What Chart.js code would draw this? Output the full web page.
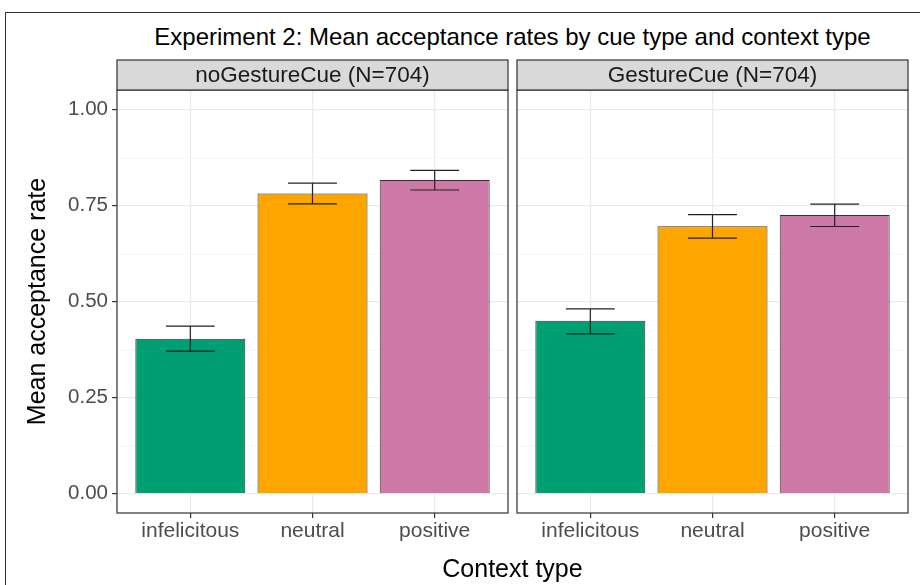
<!DOCTYPE html>
<html>
<head>
<meta charset="utf-8">
<script src="https://cdn.jsdelivr.net/npm/chart.js@4.4.1/dist/chart.umd.min.js"></script>
<style>
html, body { margin: 0; padding: 0; background: #fff; overflow: hidden; }
#wrap { position: relative; width: 920px; height: 585px; overflow: hidden; font-family: "Liberation Sans", Arial, sans-serif; }
#frame { position: absolute; left: 5px; top: 12px; width: 940px; height: 600px; border: 1px solid #333; }
#title { position: absolute; left: 0; top: 25px; width: 1025px; text-align: center; font-size: 24px; line-height: 24px; color: #000; }
#xtitle { position: absolute; left: 0; top: 556px; width: 1025px; text-align: center; font-size: 25px; line-height: 24px; color: #000; }
canvas { position: absolute; top: 0; }
#left { left: 0; }
#right { left: 512px; }
</style>
</head>
<body>
<div id="wrap">
  <div id="frame"></div>
  <div id="title">Experiment 2: Mean acceptance rates by cue type and context type</div>
  <canvas id="left" width="512" height="585"></canvas>
  <canvas id="right" width="408" height="585"></canvas>
  <div id="xtitle">Context type</div>
</div>
<script>
// data
var contexts = ['infelicitous', 'neutral', 'positive'];
var panelNames = ['noGestureCue (N=704)', 'GestureCue (N=704)'];
var noGestureMean = [0.403, 0.781, 0.816];
var noGestureLow = [0.371, 0.754, 0.790];
var noGestureHigh = [0.436, 0.808, 0.841];
var gestureMean = [0.450, 0.696, 0.725];
var gestureLow = [0.416, 0.665, 0.695];
var gestureHigh = [0.481, 0.726, 0.753];
var yTicks = [0, 0.25, 0.5, 0.75, 1];
var yMinor = [0.125, 0.375, 0.625, 0.875];
var barColors = ['#009E73', '#FFA500', '#CC79A7'];

var FONT = '"Liberation Sans", Arial, sans-serif';

function isMinor(ctx) {
  return ctx.tick && yMinor.indexOf(ctx.tick.value) >= 0;
}

function makePanel(id, name, means, lows, highs, showY) {
  // error bars + strip + panel border
  var extras = {
    id: 'extras' + id,
    afterDatasetsDraw: function (chart) {
      var c = chart.ctx, xs = chart.scales.x, ys = chart.scales.y;
      var band = xs.getPixelForValue(1) - xs.getPixelForValue(0);
      var half = band * 0.2;
      c.save();
      c.strokeStyle = '#222';
      c.lineWidth = 1.2;
      for (var i = 0; i < means.length; i++) {
        var x = xs.getPixelForValue(i);
        var y1 = ys.getPixelForValue(lows[i]);
        var y2 = ys.getPixelForValue(highs[i]);
        c.beginPath();
        c.moveTo(x, y1); c.lineTo(x, y2);
        c.moveTo(x - half, y1); c.lineTo(x + half, y1);
        c.moveTo(x - half, y2); c.lineTo(x + half, y2);
        c.stroke();
      }
      c.restore();
    },
    afterDraw: function (chart) {
      var c = chart.ctx, a = chart.chartArea;
      c.save();
      c.strokeStyle = '#333';
      c.lineWidth = 1.2;
      c.strokeRect(a.left, a.top, a.right - a.left, a.bottom - a.top);
      c.fillStyle = '#D9D9D9';
      c.fillRect(a.left, a.top - 30, a.right - a.left, 30);
      c.strokeRect(a.left, a.top - 30, a.right - a.left, 30);
      c.fillStyle = '#1A1A1A';
      c.font = '22.5px ' + FONT;
      c.textAlign = 'center';
      c.textBaseline = 'middle';
      c.fillText(name, (a.left + a.right) / 2, a.top - 14);
      c.restore();
    }
  };

  new Chart(document.getElementById(id), {
    type: 'bar',
    data: {
      datasets: [{
        data: means.map(function (v, i) { return { x: i, y: v }; }),
        backgroundColor: barColors,
        borderColor: '#333',
        borderWidth: 1,
        barPercentage: 0.9,
        categoryPercentage: 1.0
      }]
    },
    options: {
      responsive: false,
      animation: false,
      layout: { padding: showY ? { left: 0, right: 4, top: 90, bottom: 42 } : { left: 5, right: 12, top: 90, bottom: 42 } },
      plugins: { legend: { display: false }, tooltip: { enabled: false }, title: { display: false } },
      scales: {
        x: {
          type: 'linear',
          offset: false,
          min: -0.6,
          max: contexts.length - 0.4,
          afterFit: function (s) { s.height = 30; },
          afterBuildTicks: function (s) {
            s.ticks = contexts.map(function (c, i) { return { value: i }; });
          },
          border: { display: false },
          grid: { offset: false, color: '#EBEBEB', lineWidth: 1.2, tickLength: 5, tickColor: '#333' },
          ticks: {
            color: '#4D4D4D', padding: 1, maxRotation: 0, autoSkip: false,
            font: { family: FONT, size: 21 },
            callback: function (v) { return contexts[v]; }
          }
        },
        y: {
          min: -0.05,
          max: 1.05,
          afterFit: function (s) { s.width = showY ? 117 : 0; },
          afterBuildTicks: function (s) {
            s.ticks = yTicks.concat(yMinor).sort().map(function (v) { return { value: v }; });
          },
          border: { display: false },
          grid: {
            drawTicks: showY,
            tickLength: 5,
            color: function (ctx) { return isMinor(ctx) ? '#F4F4F4' : '#EBEBEB'; },
            lineWidth: function (ctx) { return isMinor(ctx) ? 0.7 : 1.2; },
            tickColor: function (ctx) { return isMinor(ctx) ? 'rgba(0,0,0,0)' : '#333'; }
          },
          ticks: {
            display: showY,
            color: '#4D4D4D',
            padding: 4,
            font: { family: FONT, size: 20.5 },
            callback: function (v) { return yMinor.indexOf(v) >= 0 ? '' : v.toFixed(2); }
          },
          title: {
            display: showY,
            text: 'Mean acceptance rate',
            color: '#000',
            padding: { top: 23, bottom: 0 },
            font: { family: FONT, size: 25 }
          }
        }
      }
    },
    plugins: [extras]
  });
}

makePanel('left', panelNames[0], noGestureMean, noGestureLow, noGestureHigh, true);
makePanel('right', panelNames[1], gestureMean, gestureLow, gestureHigh, false);
</script>
</body>
</html>
